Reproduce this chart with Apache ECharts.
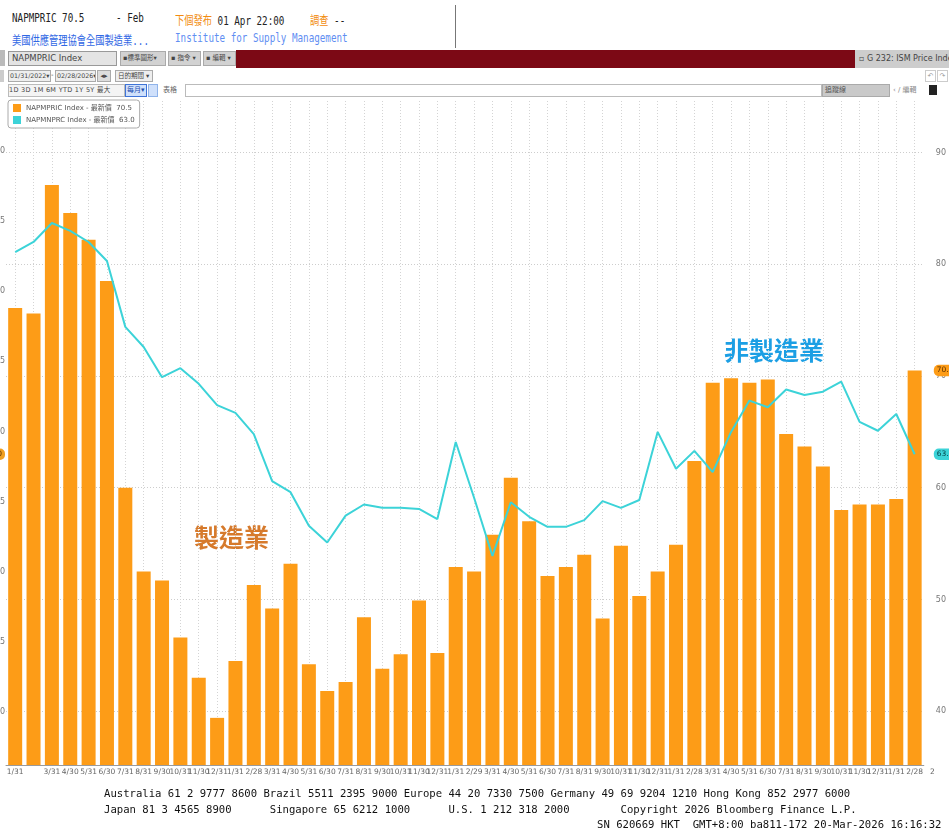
<!DOCTYPE html>
<html>
<head>
<meta charset="utf-8">
<script src="https://cdn.jsdelivr.net/npm/echarts@6/dist/echarts.min.js"></script>
<style>
  html, body { margin: 0; padding: 0; background: #fff; }
  body { width: 949px; height: 829px; position: relative; overflow: hidden; font-family: 'DejaVu Sans', 'Noto Sans CJK TC', sans-serif; }
  .abs { position: absolute; white-space: pre; }
  .cond { font-family: 'DejaVu Sans Mono', 'Noto Sans CJK TC', monospace; font-size: 12.5px; transform: scaleX(0.74); transform-origin: 0 0; }
  .box { position: absolute; box-sizing: border-box; font-size: 7px; color: #444; line-height: 11px; overflow: hidden; white-space: nowrap; }
  .foot { position: absolute; left: 104px; font-family: 'DejaVu Sans Mono', monospace; font-size: 10.6px; color: #111; white-space: pre; }
  #chart { position: absolute; left: -20px; top: 98px; width: 969px; height: 690px; }
</style>
</head>
<body>
<!-- header -->
<div class="abs cond" style="left:12px;top:10px;color:#222">NAPMPRIC 70.5</div>
<div class="abs cond" style="left:116px;top:10px;color:#222">- Feb</div>
<div class="abs cond" style="left:175px;top:10px;color:#f28c0f">下個發布 <span style="color:#222">01 Apr 22:00</span></div>
<div class="abs cond" style="left:310px;top:10px;color:#f28c0f">調查 <span style="color:#222">--</span></div>
<div class="abs cond" style="left:12px;top:30px;color:#2f67e4">美國供應管理協會全國製造業...</div>
<div class="abs cond" style="left:175px;top:30px;color:#5f8ef2">Institute for Supply Management</div>
<div class="abs" style="left:455px;top:5px;width:1px;height:43px;background:#777"></div>

<!-- toolbar -->
<div class="box" style="left:0;top:50px;width:5px;height:16px;background:#bbb"></div>
<div class="box" style="left:8px;top:51px;width:109px;height:15px;background:#e4e4e4;border:1px solid #999;padding-left:3px;line-height:13px;font-size:8.5px">NAPMPRIC Index</div>
<div class="box" style="left:120px;top:51px;width:46px;height:15px;background:#d2d2d2;border:1px solid #aaa;padding-left:2px;line-height:13px;font-size:6.5px">▪標準圖形▾</div>
<div class="box" style="left:168px;top:51px;width:33px;height:15px;background:#d2d2d2;border:1px solid #aaa;padding-left:2px;line-height:13px;font-size:6.5px">▪ 指令 ▾</div>
<div class="box" style="left:203px;top:51px;width:33px;height:15px;background:#d2d2d2;border:1px solid #aaa;padding-left:2px;line-height:13px;font-size:6.5px">▪ 編輯 ▾</div>
<div class="box" style="left:236px;top:50px;width:619px;height:18px;background:#7c0915"></div>
<div class="box" style="left:855px;top:50px;width:94px;height:18px;background:#cdcdcd;padding-left:4px;line-height:18px;font-size:8px">▫ G 232: ISM Price Index</div>

<div class="box" style="left:0;top:70px;width:4px;height:12px;background:#ccc"></div>
<div class="box" style="left:8px;top:70px;width:43px;height:12px;border:1px solid #aaa;padding-left:1px;line-height:10px;background:#eee;font-size:6.3px">01/31/2022▾</div>
<div class="box" style="left:51px;top:70px;width:4px;height:12px;line-height:10px">-</div>
<div class="box" style="left:55px;top:70px;width:41px;height:12px;border:1px solid #aaa;padding-left:1px;line-height:10px;background:#eee;font-size:6.3px">02/28/2026▾</div>
<div class="box" style="left:97px;top:70px;width:14px;height:12px;border:1px solid #aaa;background:#ddd;line-height:10px;text-align:center">◂▸</div>
<div class="box" style="left:115px;top:70px;width:38px;height:12px;border:1px solid #aaa;padding-left:2px;line-height:10px;background:#eee;font-size:6.5px">日的期間 ▾</div>
<div class="box" style="left:925px;top:70px;width:11px;height:12px;border:1px solid #ccc;text-align:center;line-height:10px;color:#999">↶</div>
<div class="box" style="left:937px;top:70px;width:11px;height:12px;border:1px solid #ccc;text-align:center;line-height:10px;color:#999">↷</div>

<div class="box" style="left:8px;top:84px;width:117px;height:13px;border:1px solid #bbb;line-height:11px;background:#f4f4f4;font-size:6.5px;letter-spacing:0.3px"> 1D  3D  1M  6M  YTD  1Y  5Y  最大</div>
<div class="box" style="left:125px;top:84px;width:22px;height:13px;border:1px solid #3f74d8;background:#cfe0fb;line-height:11px;padding-left:1px;color:#1e4fb0">每月▾</div>
<div class="box" style="left:148px;top:84px;width:10px;height:13px;border:1px solid #8fb3ea;background:#cfe0fb"></div>
<div class="box" style="left:163px;top:84px;width:20px;height:13px;line-height:13px;color:#666">表格</div>
<div class="box" style="left:185px;top:84px;width:637px;height:13px;border:1px solid #bbb;background:#fff"></div>
<div class="box" style="left:822px;top:84px;width:68px;height:13px;background:#c9c9c9;border:1px solid #aaa;line-height:11px;padding-left:2px;color:#555">追蹤線</div>
<div class="box" style="left:893px;top:84px;width:34px;height:13px;line-height:13px;color:#888">‹ / 編輯</div>
<div class="box" style="left:929px;top:85px;width:8px;height:10px;background:#222"></div>

<div id="chart"></div>
<div class="abs" style="left:930px;top:767px;font-size:7.5px;color:#666">2</div>

<!-- footer -->
<div class="foot" style="top:787px">Australia 61 2 9777 8600 Brazil 5511 2395 9000 Europe 44 20 7330 7500 Germany 49 69 9204 1210 Hong Kong 852 2977 6000</div>
<div class="foot" style="top:803px">Japan 81 3 4565 8900      Singapore 65 6212 1000      U.S. 1 212 318 2000        Copyright 2026 Bloomberg Finance L.P.</div>
<div class="foot" style="top:818px;left:597px">SN 620669 HKT  GMT+8:00 ba811-172 20-Mar-2026 16:16:32</div>

<script>
// 月末日期
const dates = [
  '2022-01-31', '2022-02-28', '2022-03-31', '2022-04-30', '2022-05-31', '2022-06-30',
  '2022-07-31', '2022-08-31', '2022-09-30', '2022-10-31', '2022-11-30', '2022-12-31',
  '2023-01-31', '2023-02-28', '2023-03-31', '2023-04-30', '2023-05-31', '2023-06-30',
  '2023-07-31', '2023-08-31', '2023-09-30', '2023-10-31', '2023-11-30', '2023-12-31',
  '2024-01-31', '2024-02-29', '2024-03-31', '2024-04-30', '2024-05-31', '2024-06-30',
  '2024-07-31', '2024-08-31', '2024-09-30', '2024-10-31', '2024-11-30', '2024-12-31',
  '2025-01-31', '2025-02-28', '2025-03-31', '2025-04-30', '2025-05-31', '2025-06-30',
  '2025-07-31', '2025-08-31', '2025-09-30', '2025-10-31', '2025-11-30', '2025-12-31',
  '2026-01-31', '2026-02-28',
]

// x 軸標籤 (第二個在原圖沒有顯示)
const tickLabels = [
  '1/31', '', '3/31', '4/30', '5/31', '6/30', '7/31', '8/31', '9/30', '10/31', '11/30', '12/31',
  '1/31', '2/28', '3/31', '4/30', '5/31', '6/30', '7/31', '8/31', '9/30', '10/31', '11/30', '12/31',
  '1/31', '2/29', '3/31', '4/30', '5/31', '6/30', '7/31', '8/31', '9/30', '10/31', '11/30', '12/31',
  '1/31', '2/28', '3/31', '4/30', '5/31', '6/30', '7/31', '8/31', '9/30', '10/31', '11/30', '12/31',
  '1/31', '2/28',
]

// 製造業 物價指數 (NAPMPRIC)
const manufacturing = [
  76.1, 75.6, 87.1, 84.6, 82.2, 78.5, 60.0, 52.5, 51.7, 46.6, 43.0, 39.4,
  44.5, 51.3, 49.2, 53.2, 44.2, 41.8, 42.6, 48.4, 43.8, 45.1, 49.9, 45.2,
  52.9, 52.5, 55.8, 60.9, 57.0, 52.1, 52.9, 54.0, 48.3, 54.8, 50.3, 52.5,
  54.9, 62.4, 69.4, 69.8, 69.4, 69.7, 64.8, 63.7, 61.9, 58.0, 58.5, 58.5,
  59.0, 70.5,
]

// 非製造業 物價指數 (NAPMNPRC)
const services = [
  81.1, 82.0, 83.7, 83.0, 82.0, 80.3, 74.4, 72.6, 69.9, 70.7, 69.3, 67.4,
  66.7, 64.8, 60.6, 59.6, 56.6, 55.1, 57.5, 58.5, 58.2, 58.2, 58.1, 57.2,
  64.1, 59.1, 53.9, 58.7, 57.4, 56.5, 56.5, 57.1, 58.8, 58.2, 58.9, 65.0,
  61.7, 63.3, 61.4, 65.0, 67.8, 67.2, 68.8, 68.3, 68.6, 69.5, 65.9, 65.1,
  66.6, 63.0,
]

const rightTicks = [40, 50, 60, 70, 80, 90]
const leftTicks = [50, 55, 60, 65, 70, 75, 80, 85, 90]

const lastMfg = manufacturing[manufacturing.length - 1]
const lastSvc = services[services.length - 1]

const orange = '#fd9c17'
const teal = '#3cd3d8'

// 最新值標籤
const badge = (pos, bg, fg, dist) => ({
  show: true,
  position: pos,
  distance: dist,
  formatter: p => p.value.toFixed(1),
  backgroundColor: bg,
  color: fg,
  fontSize: 7.5,
  padding: [2, 3],
  borderRadius: 5,
})

const chart = echarts.init(document.getElementById('chart'))

chart.setOption({
  animation: false,
  textStyle: { fontFamily: "'DejaVu Sans', 'Noto Sans CJK TC', sans-serif" },
  legend: {
    left: 28,
    top: 2,
    orient: 'vertical',
    icon: 'rect',
    itemWidth: 8,
    itemHeight: 8,
    itemGap: 4,
    padding: [4, 5],
    backgroundColor: '#fff',
    borderColor: '#aaa',
    borderWidth: 1,
    borderRadius: 3,
    textStyle: { fontSize: 7, color: '#555' },
    formatter: name => name === 'NAPMPRIC Index'
      ? name + ' - 最新價  ' + lastMfg.toFixed(1)
      : name + ' - 最新價  ' + lastSvc.toFixed(1),
  },
  grid: { left: 26, right: 24, top: 1, bottom: 23 },
  xAxis: {
    type: 'category',
    data: dates,
    axisLine: { lineStyle: { color: '#9a9a9a' } },
    axisTick: {
      show: true,
      alignWithLabel: true,
      inside: true,
      interval: 0,
      length: 666,
      lineStyle: { color: '#d4d4d4', type: [1, 2] },
    },
    axisLabel: {
      interval: 0,
      margin: 3,
      fontSize: 7.5,
      color: '#666',
      formatter: (v, i) => tickLabels[i],
    },
    splitLine: { show: false },
  },
  yAxis: [
    {
      type: 'value',
      position: 'left',
      min: 46.22,
      max: 93.71,
      axisLine: { show: false },
      axisTick: { show: false, customValues: leftTicks },
      splitLine: { show: false },
      axisLabel: { customValues: leftTicks, margin: 1, fontSize: 8, color: '#777' },
    },
    {
      type: 'value',
      position: 'right',
      min: 35.18,
      max: 94.8,
      axisLine: { show: false },
      axisTick: { show: false, customValues: rightTicks },
      splitLine: { show: true, lineStyle: { color: '#cdcdcd', type: [1, 2] } },
      axisLabel: { customValues: rightTicks, margin: 12, fontSize: 8, color: '#777' },
    },
  ],
  graphic: [
    {
      type: 'text',
      left: 214,
      top: 427,
      style: { text: '製造業', fontSize: 25, fontWeight: 'bold', fill: '#d67a2c', fontFamily: 'Noto Sans CJK TC' },
    },
    {
      type: 'text',
      left: 744,
      top: 240,
      style: { text: '非製造業', fontSize: 25, fontWeight: 'bold', fill: '#1c9fe4', fontFamily: 'Noto Sans CJK TC' },
    },
  ],
  series: [
    {
      name: 'NAPMPRIC Index',
      type: 'bar',
      yAxisIndex: 1,
      data: manufacturing,
      barWidth: 14,
      itemStyle: { color: orange },
      markLine: {
        silent: true,
        symbol: 'none',
        lineStyle: { color: 'rgba(0,0,0,0)', width: 0 },
        label: badge('end', orange, '#5a3000', 10),
        data: [{ yAxis: lastMfg }],
      },
    },
    {
      name: 'NAPMNPRC Index',
      type: 'line',
      yAxisIndex: 1,
      data: services,
      symbol: 'none',
      lineStyle: { color: teal, width: 2 },
      itemStyle: { color: teal },
      markLine: {
        silent: true,
        symbol: 'none',
        lineStyle: { color: 'rgba(0,0,0,0)', width: 0 },
        data: [
          { yAxis: lastSvc, label: badge('end', teal, '#003f44', 10) },
          { yAxis: lastSvc, label: badge('start', '#f0a020', '#5a3000', 1) },
        ],
      },
    },
  ],
})
</script>
</body>
</html>
